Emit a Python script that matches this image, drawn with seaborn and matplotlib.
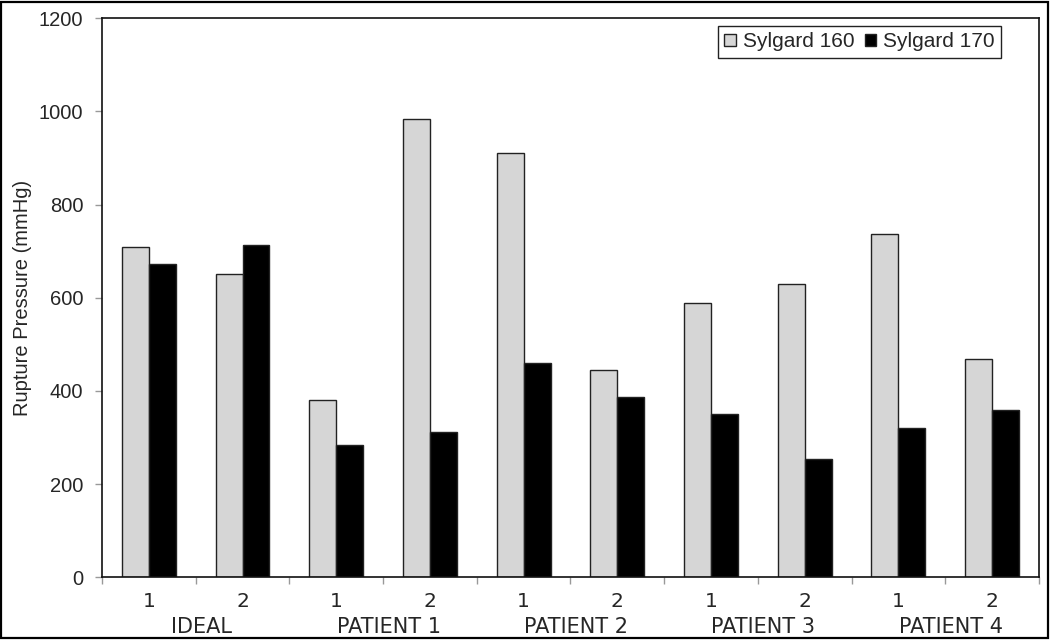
import pandas as pd
import seaborn as sns
import matplotlib.pyplot as plt
from matplotlib.patches import Rectangle

# --------------------- data --------------------- #
groups = ['IDEAL', 'PATIENT 1', 'PATIENT 2', 'PATIENT 3', 'PATIENT 4']
samples = ['1', '2']
sylgard_160 = [710, 652, 381, 984, 910, 445, 589, 630, 736, 469]
sylgard_170 = [673, 714, 284, 311, 460, 388, 351, 253, 321, 359]
materials = ['Sylgard 160', 'Sylgard 170']
y_ticks = [0, 200, 400, 600, 800, 1000, 1200]


def build_frame():
    """ long-format frame: one row per bar """
    cats = [g + ' ' + s for g in groups for s in samples]
    df = pd.DataFrame({
        'sample': cats * 2,
        'material': [materials[0]] * len(cats) + [materials[1]] * len(cats),
        'pressure': sylgard_160 + sylgard_170,
    })
    return df, cats


df, cats = build_frame()

sns.set_style('ticks')
plt.rcParams['font.family'] = ['Liberation Sans', 'DejaVu Sans']

fig = plt.figure(figsize=(10.5, 6.41), dpi=100)
ax = fig.add_axes([0.0971, 0.0994, 0.8924, 0.8720])

sns.barplot(data=df, x='sample', y='pressure', hue='material', order=cats,
            hue_order=materials, palette=['#d6d6d6', '#000000'],
            width=0.576, edgecolor='#222222', linewidth=1.0,
            errorbar=None, ax=ax)

# y axis
ax.set_ylim(0, 1200)
ax.set_yticks(y_ticks)
ax.set_yticklabels([str(t) for t in y_ticks], fontsize=14.5)
ax.tick_params(axis='y', length=5, width=1, color='#999999', pad=8.5)
ax.set_ylabel('Rupture Pressure (mmHg)', fontsize=14.5)
ax.yaxis.set_label_coords(-0.0747, 0.5)

# x axis: ticks on category boundaries, labels at centres
ax.set_xlim(-0.5, len(cats) - 0.5)
ax.set_xticks([i - 0.5 for i in range(len(cats) + 1)])
ax.set_xticklabels([])
ax.tick_params(axis='x', which='major', length=5, width=1, color='#999999')
ax.set_xticks(range(len(cats)), minor=True)
ax.set_xticklabels(samples * len(groups), minor=True,
                   fontfamily='DejaVu Sans', fontsize=14.5)
ax.tick_params(axis='x', which='minor', length=0, pad=10.5)
ax.set_xlabel('')
for i, g in enumerate(groups):
    ax.text(2 * i + 0.56, -0.089, g, transform=ax.get_xaxis_transform(),
            ha='center', va='center', fontfamily='DejaVu Sans', fontsize=15)

for sp in ax.spines.values():
    sp.set_visible(True)
    sp.set_color('#111111')
    sp.set_linewidth(1.2)

# legend
handles, labels = ax.get_legend_handles_labels()
ax.legend(handles, labels, loc='upper right', bbox_to_anchor=(0.9594, 0.9862),
          borderaxespad=0, ncol=2, fontsize=15, frameon=True, fancybox=False,
          edgecolor='#222222', framealpha=1, handlelength=0.56,
          handleheight=0.56, handletextpad=0.32, columnspacing=0.5,
          borderpad=0.3)
ax.get_legend().get_frame().set_linewidth(1.0)

# outer border round the whole picture
fig.patches.append(Rectangle((1 / 1050, 1 - 637.7 / 641), 1047 / 1050,
                             636.2 / 641, transform=fig.transFigure,
                             fill=False, edgecolor='black', linewidth=1.6))

fig.savefig('out.png', dpi=100)
